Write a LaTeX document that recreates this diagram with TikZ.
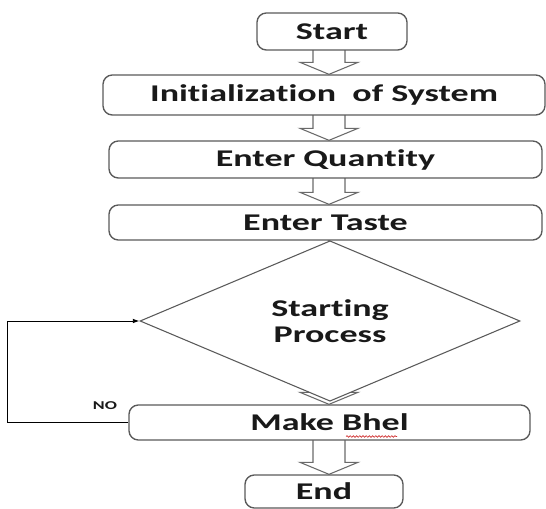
\documentclass[tikz,border=0pt]{standalone}
\usepackage{fontspec}
\newfontfamily\chartfont{Carlito}[FakeStretch=1.5, Ligatures=NoCommon]
\usetikzlibrary{arrows.meta,calc,shapes.geometric,backgrounds,decorations.pathmorphing}
\definecolor{boxline}{HTML}{5A5A5A}
\definecolor{arrowline}{HTML}{6A6A6A}
\definecolor{spellred}{HTML}{D03030}
\tikzset{
  every node/.style={font=\chartfont\bfseries\fontsize{18}{19.5}\selectfont,
    text=black!90},
  stepbox/.style={rectangle, rounded corners=7pt, draw=boxline,
    line width=1pt, fill=white, inner sep=0pt, align=center},
  decision/.style={diamond, draw=boxline, line width=0.8pt, fill=white,
    inner sep=0pt, align=center, minimum width=285pt, minimum height=79.5pt},
  hollow/.style={draw=arrowline, line width=0.8pt, fill=white,
    line join=miter},
  loopline/.style={-{Latex[length=5pt,width=3.5pt]}, line width=0.7pt,
    draw=black},
  note/.style={font=\chartfont\bfseries\fontsize{9}{10}\selectfont},
  squiggle/.style={draw=spellred, line width=0.5pt, decorate,
    decoration={snake, amplitude=0.6pt, segment length=2.4pt}},
}

\begin{document}
\begin{tikzpicture}[x=0.75pt,y=-0.75pt]
\useasboundingbox (0,0) rectangle (546,509);

% ---- Steps -----------------------------------------------------------------
\node[stepbox, minimum width=112.5pt, minimum height=27.75pt] (start) at (332,31.5) {Start};
\node[stepbox, minimum width=331.5pt, minimum height=30pt] (init) at (324,95) {Initialization\ \ of System};
\node[stepbox, minimum width=324.75pt, minimum height=27.75pt] (qty) at (325.5,159.5) {Enter Quantity};
\node[stepbox, minimum width=324.75pt, minimum height=26.25pt] (taste) at (325.5,222.5) {Enter Taste};
\node[decision] (proc) at (330,321) {Starting\\Process};
\node[stepbox, minimum width=300.75pt, minimum height=26.25pt] (bhel) at (329.5,422.5) {Make Bhel};
\node[stepbox, minimum width=118.5pt, minimum height=24.75pt] (end) at (324,491.5) {End};

\draw[squiggle] (346,436.5) -- (397,436.5);

% ---- Block arrows (behind the boxes) ---------------------------------------
\coordinate (ax) at (329,0);
\begin{scope}[on background layer]
\foreach \a/\b in {start/init, init/qty, qty/taste, taste/proc, proc/bhel, bhel/end}
  \draw[hollow] ($(\a.center -| ax)+(-16,0)$) -- ($(\b.north -| ax)+(-16,-12)$)
    -- ++(-13,0) -- (\b.north -| ax) -- ($(\b.north -| ax)+(29,-12)$)
    -- ++(-13,0) -- ($(\a.center -| ax)+(16,0)$);
\end{scope}

% ---- Loop back -------------------------------------------------------------
\coordinate (loopx) at (7,0);
\draw[loopline] (bhel.west) -- (loopx |- bhel.west) |- (proc.west);
\node[note] (no) at (105,406) {NO};

\end{tikzpicture}
\end{document}
